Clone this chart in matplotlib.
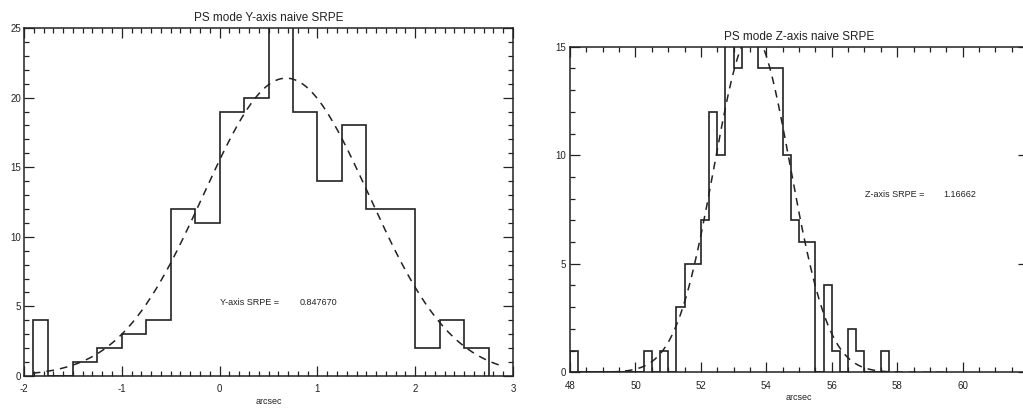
import numpy as np
import matplotlib
matplotlib.use("Agg")
import matplotlib.pyplot as plt
from matplotlib.ticker import MultipleLocator

plt.rcParams['font.family'] = ['Liberation Sans', 'DejaVu Sans']
plt.rcParams['axes.unicode_minus'] = False

# ---- Left panel: Y-axis histogram ----
y_edges = [-1.91, -1.75, -1.5, -1.25, -1.0, -0.75, -0.5, -0.25, 0.0, 0.25, 0.5,
           0.75, 1.0, 1.25, 1.5, 1.75, 2.0, 2.25, 2.5, 2.75]
y_counts = [4, 0, 1, 2, 3, 4, 12, 11, 19, 20, 27, 19, 14, 18, 12, 12, 2, 4, 2]
y_fit_amp, y_fit_mean, y_fit_sigma = 21.4, 0.68, 0.847670
y_fit_range = (-1.91, 2.87)
y_srpe = 0.847670

# ---- Right panel: Z-axis histogram ----
z_edges = np.arange(48.0, 57.76, 0.25)
z_counts = [1, 0, 0, 0, 0, 0, 0, 0, 0, 1, 0, 1, 0, 3, 5, 5, 7, 12, 10, 16, 14,
            17, 16, 14, 14, 14, 10, 7, 6, 6, 0, 4, 1, 0, 2, 1, 0, 0, 1]
z_fit_amp, z_fit_mean, z_fit_sigma = 15.6, 53.57, 1.16662
z_fit_range = (48.0, 59.5)
z_srpe = 1.16662

W, H = 1023, 408
fig = plt.figure(figsize=(W / 100, H / 100), dpi=100)

lc = '#222222'

def px_axes(x0, x1, ytop, ybot):
    return fig.add_axes([x0 / W, 1 - ybot / H, (x1 - x0) / W, (ybot - ytop) / H])

def style(ax, xmaj, xmin, ymaj, ymin, ypad):
    ax.xaxis.set_major_locator(MultipleLocator(xmaj))
    ax.xaxis.set_minor_locator(MultipleLocator(xmin))
    ax.yaxis.set_major_locator(MultipleLocator(ymaj))
    ax.yaxis.set_minor_locator(MultipleLocator(ymin))
    ax.tick_params(which='both', direction='in', top=True, right=True,
                   colors=lc, width=0.9, labelsize=7, labelcolor=lc)
    ax.tick_params(which='major', length=7)
    ax.tick_params(which='minor', length=3.5)
    ax.tick_params(axis='x', pad=6)
    ax.tick_params(axis='y', pad=ypad)
    for s in ax.spines.values():
        s.set_color(lc)
        s.set_linewidth(1.1)

def gauss(x, a, m, s):
    return a * np.exp(-(x - m) ** 2 / (2 * s ** 2))

# Left
ax1 = px_axes(24, 513, 28, 376)
ax1.stairs(y_counts, y_edges, baseline=0, color=lc, lw=1.2)
xf = np.linspace(*y_fit_range, 300)
ax1.plot(xf, gauss(xf, y_fit_amp, y_fit_mean, y_fit_sigma), color=lc, lw=1.1,
         linestyle=(0, (5, 4)))
ax1.set_xlim(-2, 3)
ax1.set_ylim(0, 25)
style(ax1, 1, 0.1, 5, 1, 2)
ax1.set_title('PS mode Y-axis naive SRPE', fontsize=8.5, pad=5, color=lc)
ax1.set_xlabel('arcsec', fontsize=6.5, labelpad=2, color=lc)
ax1.text(0.0, 5.25, 'Y-axis SRPE =', fontsize=6.5, va='center', ha='left', color=lc)
ax1.text(0.82, 5.25, f'{y_srpe:.6f}', fontsize=6.5, va='center', ha='left', color=lc)

# Right (extends past right edge of figure, as in the reference crop)
ax2 = px_axes(570, 1028, 46.7, 372.3)
ax2.stairs(z_counts, z_edges, baseline=0, color=lc, lw=1.2)
zf = np.linspace(*z_fit_range, 400)
ax2.plot(zf, gauss(zf, z_fit_amp, z_fit_mean, z_fit_sigma), color=lc, lw=1.1,
         linestyle=(0, (5, 4)))
ax2.set_xlim(48, 62)
ax2.set_ylim(0, 15)
style(ax2, 2, 0.5, 5, 1, 3)
ax2.set_xticks([48, 50, 52, 54, 56, 58, 60])
ax2.set_title('PS mode Z-axis naive SRPE', fontsize=8.5, pad=5, color=lc)
ax2.set_xlabel('arcsec', fontsize=6.5, labelpad=2, color=lc)
ax2.text(57.03, 8.17, 'Z-axis SRPE =', fontsize=6.5, va='center', ha='left', color=lc)
ax2.text(59.42, 8.17, f'{z_srpe:.5f}', fontsize=6.5, va='center', ha='left', color=lc)

fig.savefig('out.png', dpi=100)
